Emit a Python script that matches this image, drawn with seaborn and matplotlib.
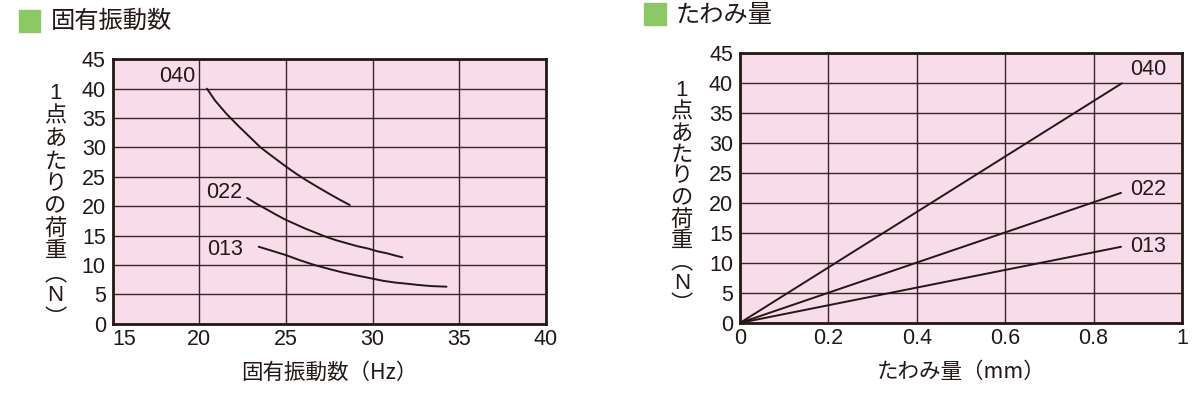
import matplotlib
matplotlib.use("Agg")
import matplotlib.pyplot as plt
from matplotlib.patches import Rectangle
import numpy as np
import pandas as pd
import seaborn as sns

# ---- data ----
# 固有振動数 (Hz) vs 1点あたりの荷重 (N)
freq_040 = [20.44, 20.9, 21.54, 22.2, 22.9, 23.53, 24.2, 24.97, 25.6, 26.18, 26.8, 27.5, 28.1, 28.68]
load_040 = [40.0, 38.0, 35.8, 33.8, 31.8, 30.0, 28.5, 26.8, 25.5, 24.4, 23.3, 22.1, 21.1, 20.2]
freq_022 = [22.76, 23.3, 23.8, 24.4, 24.97, 25.5, 26.1, 26.7, 27.29, 27.9, 28.5, 29.1, 29.72, 30.3, 30.8, 31.3, 31.71]
load_022 = [21.4, 20.4, 19.6, 18.6, 17.7, 17.0, 16.2, 15.5, 14.8, 14.2, 13.7, 13.2, 12.8, 12.3, 12.0, 11.6, 11.3]
freq_013 = [23.42, 24.2, 24.97, 25.8, 26.63, 27.5, 28.3, 29.1, 29.94, 30.6, 31.3, 32.0, 32.6, 33.4, 34.26]
load_013 = [13.1, 12.4, 11.7, 10.8, 10.0, 9.3, 8.7, 8.2, 7.7, 7.3, 7.0, 6.8, 6.6, 6.4, 6.3]

# たわみ量 (mm) vs 荷重 (N)
defl_040 = [0.0, 0.864]
dload_040 = [0.0, 40.0]
defl_022 = [0.0, 0.862]
dload_022 = [0.0, 21.7]
defl_013 = [0.0, 0.862]
dload_013 = [0.0, 12.7]

models = ["040", "022", "013"]
x_ticks_left = [15, 20, 25, 30, 35, 40]
x_ticks_right = [0, 0.2, 0.4, 0.6, 0.8, 1]
x_labels_right = ["0", "0.2", "0.4", "0.6", "0.8", "1"]
y_ticks = list(range(0, 50, 5))

ylabel_chars = ["1", "点", "あ", "た", "り", "の", "荷", "重", "︵", "N", "︶"]

df_freq = pd.DataFrame({
    "f": freq_040 + freq_022 + freq_013,
    "load": load_040 + load_022 + load_013,
    "model": ["040"] * len(freq_040) + ["022"] * len(freq_022) + ["013"] * len(freq_013),
})
df_defl = pd.DataFrame({
    "d": defl_040 + defl_022 + defl_013,
    "load": dload_040 + dload_022 + dload_013,
    "model": ["040"] * 2 + ["022"] * 2 + ["013"] * 2,
})

sns.set_theme(style="white")
plt.rcParams['font.family'] = ['Liberation Sans', 'Noto Sans CJK JP', 'DejaVu Sans']
plt.rcParams['axes.unicode_minus'] = False
CJK = ['Noto Sans CJK JP', 'DejaVu Sans']

PINK = "#f9dcea"
GRID = "#3a2426"
GREEN = "#8cc864"
INK = "#231815"
NUM_SIZE = 15.5

W, H = 1196, 411
fig = plt.figure(figsize=(W / 100, H / 100), dpi=100)


def px_axes(x0, y0, x1, y1):
    return fig.add_axes([x0 / W, 1 - y1 / H, (x1 - x0) / W, (y1 - y0) / H])


ax1 = px_axes(112.7, 59.3, 546, 323.7)
ax2 = px_axes(740, 53.3, 1182, 322.9)

black = {m: INK for m in models}
sns.lineplot(data=df_freq, x="f", y="load", hue="model", palette=black,
             sort=False, estimator=None, legend=False, linewidth=1.4, ax=ax1)
sns.lineplot(data=df_defl, x="d", y="load", hue="model", palette=black,
             sort=False, estimator=None, legend=False, linewidth=1.4, ax=ax2)

for ax in (ax1, ax2):
    ax.set_facecolor(PINK)
    ax.set_ylim(0, 45)
    ax.set_yticks(y_ticks)
    ax.grid(True, color=GRID, linewidth=1.0)
    ax.set_axisbelow(True)
    for s in ax.spines.values():
        s.set_color(INK)
        s.set_linewidth(2.0)
    ax.tick_params(axis="both", length=0, labelsize=NUM_SIZE, colors=INK)
    ax.tick_params(axis="x", pad=4)
    ax.tick_params(axis="y", pad=5)
    ax.set_ylabel("")

ax1.set_xlim(15, 40)
ax1.set_xticks(x_ticks_left)
ax1.set_xticklabels([str(v) for v in x_ticks_left])
ax1.get_xticklabels()[0].set_horizontalalignment("left")
ax1.set_xlabel("固有振動数（Hz）", fontsize=15.5, color=INK, labelpad=8, family=CJK)

ax2.set_xlim(0, 1)
ax2.set_xticks(x_ticks_right)
ax2.set_xticklabels(x_labels_right)
ax2.set_xlabel("たわみ量（mm）", fontsize=15.5, color=INK, labelpad=8, family=CJK)

# curve labels
ax1.text(19.77, 42.0, "040", ha="right", va="center", fontsize=NUM_SIZE, color=INK)
ax1.text(21.43, 22.3, "022", ha="center", va="center", fontsize=NUM_SIZE, color=INK)
ax1.text(21.47, 12.6, "013", ha="center", va="center", fontsize=NUM_SIZE, color=INK)
ax2.text(0.924, 42.3, "040", ha="center", va="center", fontsize=NUM_SIZE, color=INK)
ax2.text(0.924, 22.2, "022", ha="center", va="center", fontsize=NUM_SIZE, color=INK)
ax2.text(0.924, 12.7, "013", ha="center", va="center", fontsize=NUM_SIZE, color=INK)

# vertical y labels, one character per line
for x0, y0, step in ((55.6, 93.3, 22.5), (681.7, 90.0, 21.5)):
    for i, ch in enumerate(ylabel_chars):
        fam = ['Liberation Sans'] if ch in "1N" else CJK
        fig.text(x0 / W, 1 - (y0 + i * step) / H, ch, ha="center", va="center",
                 fontsize=16, color=INK, family=fam)

# panel titles with green squares
fig.patches.append(Rectangle((19 / W, 1 - 31.7 / H), 21 / W, 21.7 / H,
                             transform=fig.transFigure, color=GREEN))
fig.text(50.7 / W, 1 - 21 / H, "固有振動数", ha="left", va="center",
         fontsize=17.5, color=INK, family=CJK)
fig.patches.append(Rectangle((643.7 / W, 1 - 25 / H), 22 / W, 21.7 / H,
                             transform=fig.transFigure, color=GREEN))
fig.text(676 / W, 1 - 15 / H, "たわみ量", ha="left", va="center",
         fontsize=17.5, color=INK, family=CJK)

fig.savefig("out.png", dpi=100, facecolor="white")
